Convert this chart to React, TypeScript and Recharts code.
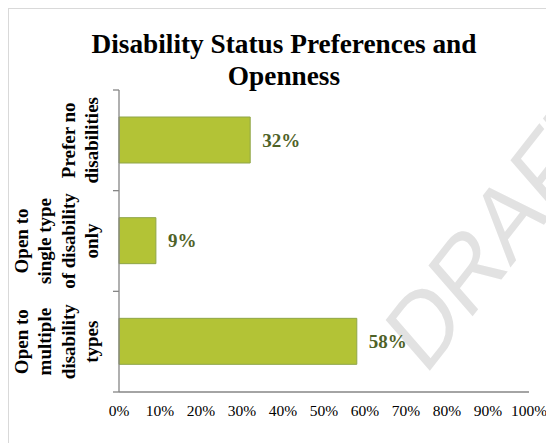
import React from 'react';
import { BarChart, Bar, XAxis, YAxis, LabelList } from 'recharts';

const categories = [
  'Prefer no disabilities',
  'Open to single type of disability only',
  'Open to multiple disability types',
];
const categoryLines = [
  ['Prefer no', 'disabilities'],
  ['Open to', 'single type', 'of disability', 'only'],
  ['Open to', 'multiple', 'disability', 'types'],
];
const values = [0.32, 0.09, 0.58];
const xTicks = [0, 0.1, 0.2, 0.3, 0.4, 0.5, 0.6, 0.7, 0.8, 0.9, 1];
const titleLines = ['Disability Status Preferences and', 'Openness'];
const watermark = 'DRAFT';

const data = categories.map((name, i) => ({ name, value: values[i] }));

const SERIF = "'Times New Roman', 'Liberation Serif', serif";
const CW = 545;
const CH = 434;
const MARGIN = { top: 81, right: 25, bottom: 21, left: 0 };
const XAXIS_H = 30;
const PLOT_H = CH - MARGIN.top - MARGIN.bottom - XAXIS_H;
const BAND = PLOT_H / categories.length;
const AXIS_COLOR = '#868686';

const pct = (v: number) => `${Math.round(v * 100)}%`;

const YTick = (props: any) => {
  const { x, y, payload, index } = props;
  const lines: string[] = categoryLines[categories.indexOf(payload.value)] || [payload.value];
  const n = lines.length;
  return (
    <g>
      <line x1={x - 6} x2={x} y1={y - BAND / 2} y2={y - BAND / 2} stroke={AXIS_COLOR} strokeWidth={1.3} />
      {index === categories.length - 1 && (
        <line x1={x - 6} x2={x} y1={y + BAND / 2} y2={y + BAND / 2} stroke={AXIS_COLOR} strokeWidth={1.3} />
      )}
      <g transform={`translate(${x},${y}) rotate(-90)`}>
        {lines.map((ln, i) => (
          <text
            key={i}
            x={0}
            y={-21 - (n - 1 - i) * 23.3}
            textAnchor="middle"
            fontFamily={SERIF}
            fontWeight="bold"
            fontSize={19}
            fill="#000"
          >
            {ln}
          </text>
        ))}
      </g>
    </g>
  );
};

export default function App() {
  return (
    <div
      style={{
        position: 'relative',
        width: 546,
        height: 435,
        boxSizing: 'border-box',
        borderTop: '1px solid #d9d9d9',
        borderLeft: '1px solid #d9d9d9',
        background: '#fff',
        overflow: 'hidden',
      }}
    >
      <svg width={CW} height={CH} style={{ position: 'absolute', left: 0, top: 0 }}>
        <text
          x={0}
          y={0}
          transform="translate(416 368) rotate(-52) skewX(-11)"
          fontFamily="'Liberation Sans', Arial, sans-serif"
          fontSize={96}
          fill="#e2e2e2"
        >
          {watermark}
        </text>
        {titleLines.map((t, i) => (
          <text
            key={i}
            x={275}
            y={44 + i * 32}
            textAnchor="middle"
            fontFamily={SERIF}
            fontWeight="bold"
            fontSize={27.3}
            fill="#000"
          >
            {t}
          </text>
        ))}
      </svg>
      <div style={{ position: 'absolute', left: 0, top: 0 }}>
        <BarChart width={CW} height={CH} data={data} layout="vertical" margin={MARGIN}>
          <XAxis
            type="number"
            domain={[0, 1]}
            ticks={xTicks}
            interval={0}
            tickFormatter={pct}
            height={XAXIS_H}
            axisLine={{ stroke: AXIS_COLOR, strokeWidth: 1.3 }}
            tickLine={false}
            tickSize={0}
            tickMargin={13}
            tick={{ fontFamily: SERIF, fontSize: 15.5, fill: '#000' }}
          />
          <YAxis
            type="category"
            dataKey="name"
            width={110}
            axisLine={{ stroke: AXIS_COLOR, strokeWidth: 1.3 }}
            tickLine={false}
            tickSize={0}
            tickMargin={0}
            interval={0}
            tick={<YTick />}
          />
          <Bar dataKey="value" barSize={46} fill="#b3c336" stroke="#8fa548" strokeWidth={1} isAnimationActive={false}>
            <LabelList
              dataKey="value"
              position="right"
              offset={12}
              formatter={(v: any) => pct(Number(v))}
              fill="#4f6228"
              fontSize={19}
              fontWeight="bold"
              fontFamily={SERIF}
            />
          </Bar>
        </BarChart>
      </div>
    </div>
  );
}
